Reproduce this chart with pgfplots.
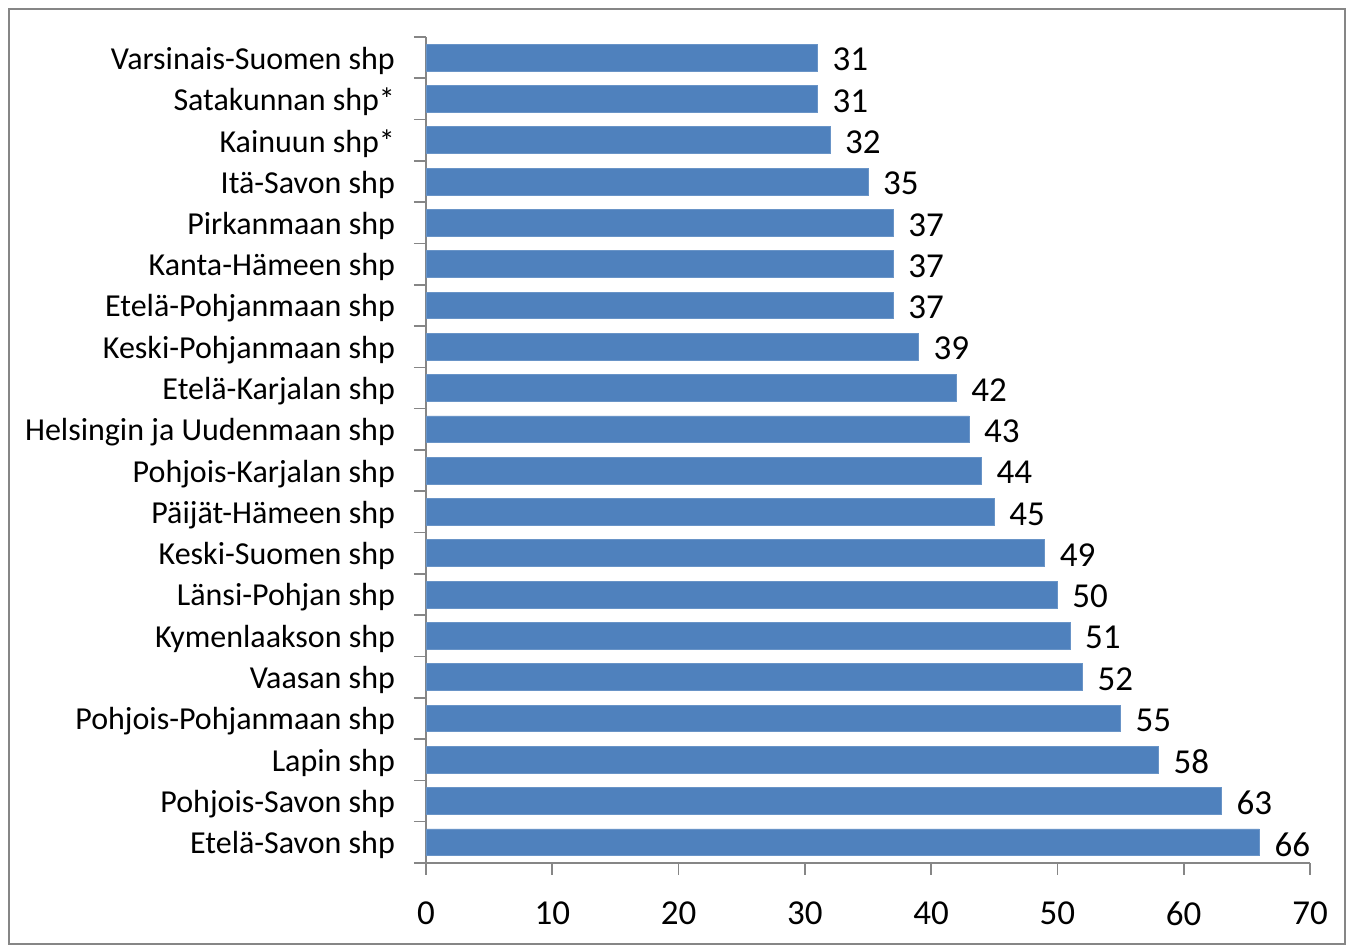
\documentclass[border=0pt]{standalone}
\usepackage{fontspec}
\setmainfont{Carlito}
\usepackage{pgfplots}
\usepackage{pgfplotstable}
\pgfplotsset{compat=1.18}
\definecolor{barblue}{HTML}{4F81BD}
\definecolor{axgray}{HTML}{868686}
\pgfplotstableread{
x y
31 19
31 18
32 17
35 16
37 15
37 14
37 13
39 12
42 11
43 10
44 9
45 8
49 7
50 6
51 5
52 4
55 3
58 2
63 1
66 0
}\datatable
\begin{document}
\begin{tikzpicture}
\useasboundingbox (0,0) rectangle (673pt,-472.5pt);
\draw[axgray, line width=1pt] (4.5pt,-4.5pt) rectangle (672.5pt,-472pt);
\begin{axis}[
  at={(213pt,-431.5pt)}, anchor=south west,
  scale only axis, width=442pt, height=413pt,
  xbar, bar width=0.65,
  xmin=0, xmax=70, ymin=-0.5, ymax=19.5,
  axis x line*=bottom, axis y line*=left,
  axis line style={-, axgray, line width=0.8pt},
  xtick={0,10,...,70},
  ytick={-0.5,0.5,1.5,2.5,3.5,4.5,5.5,6.5,7.5,8.5,9.5,10.5,11.5,12.5,13.5,14.5,15.5,16.5,17.5,18.5,19.5},
  y tick label as interval,
  yticklabels={Etelä-Savon shp, Pohjois-Savon shp, Lapin shp, Pohjois-Pohjanmaan shp, Vaasan shp, Kymenlaakson shp, Länsi-Pohjan shp, Keski-Suomen shp, Päijät-Hämeen shp, Pohjois-Karjalan shp, Helsingin ja Uudenmaan shp, Etelä-Karjalan shp, Keski-Pohjanmaan shp, Etelä-Pohjanmaan shp, Kanta-Hämeen shp, Pirkanmaan shp, Itä-Savon shp, Kainuun shp*, Satakunnan shp*, Varsinais-Suomen shp},
  tick align=outside, major tick length=6pt,
  tick style={axgray, line width=0.8pt},
  minor tick num=0,
  yticklabel style={font=\fontsize{16}{19}\selectfont, text=black, xshift=-6pt, yshift=-1.5pt},
  xticklabel style={font=\fontsize{17.5}{20}\selectfont, text=black, yshift=-10pt},
  /pgf/number format/assume math mode=true,
  nodes near coords,
  every node near coord/.append style={font=\fontsize{17.5}{20}\selectfont, text=black, xshift=4pt, yshift=-1pt},
]
\addplot[fill=barblue, draw=barblue!85!white] table[x=x, y=y] {\datatable};
\end{axis}
\end{tikzpicture}
\end{document}
